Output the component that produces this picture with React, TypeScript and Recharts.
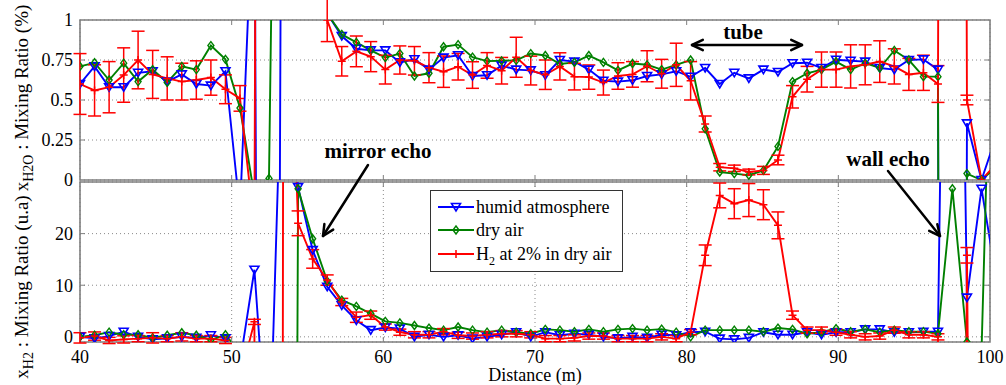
import React from 'react'
import {
  CartesianGrid,
  ErrorBar,
  Legend,
  Line,
  LineChart,
  ReferenceArea,
  ReferenceLine,
  XAxis,
  YAxis,
} from 'recharts'

// range bins (m)
const distance = [
  40.0, 40.96, 41.92, 42.88, 43.83, 44.79, 45.75, 46.71, 47.67, 48.63,
  49.59, 50.55, 51.5, 52.46, 53.42, 54.38, 55.34, 56.3, 57.26, 58.22,
  59.17, 60.13, 61.09, 62.05, 63.01, 63.97, 64.93, 65.88, 66.84, 67.8,
  68.76, 69.72, 70.68, 71.64, 72.6, 73.55, 74.51, 75.47, 76.43, 77.39,
  78.35, 79.31, 80.26, 81.22, 82.18, 83.14, 84.1, 85.06, 86.02, 86.98,
  87.94, 88.89, 89.85, 90.81, 91.77, 92.73, 93.69, 94.65, 95.61, 96.57,
  97.52, 98.48, 99.44, 100.4,
]

// x_H2O (%)
const humidH2O = [
  0.6, 0.71, 0.58, 0.58, 0.67, 0.68, 0.615, 0.66, 0.6, 0.59,
  0.68, -0.2, 2.0, -17, 5.7, 4.0, 1.5, 1.04, 0.9, 0.82,
  0.81, 0.81, 0.735, 0.755, 0.69, 0.765, 0.78, 0.65, 0.655, 0.715,
  0.69, 0.685, 0.655, 0.75, 0.74, 0.69, 0.62, 0.615, 0.623, 0.65,
  0.66, 0.68, 0.645, 0.7, 0.6, 0.67, 0.635, 0.69, 0.675, 0.73,
  0.733, 0.7, 0.752, 0.745, 0.74, 0.7, 0.69, 0.75, 0.754, 0.69,
  -30, 0.354, 0.0, 0.27,
]
const dryH2O = [
  0.71, 0.733, 0.625, 0.73, 0.615, 0.69, 0.61, 0.71, 0.69, 0.84,
  0.754, 0.45, -0.1, 0.01, 6.7, 4.0, 1.6, 1.04, 0.91, 0.86,
  0.81, 0.765, 0.79, 0.65, 0.667, 0.833, 0.846, 0.768, 0.743, 0.745,
  0.748, 0.79, 0.778, 0.725, 0.735, 0.778, 0.735, 0.685, 0.728, 0.72,
  0.69, 0.72, 0.75, 0.32, 0.05, 0.04, 0.03, 0.06, 0.21, 0.615,
  0.667, 0.69, 0.74, 0.69, 0.73, 0.7, 0.81, 0.75, 0.646, 0.646,
  -30, 0.04, 0.0, 0.08,
]
const h2H2O = [
  0.6, 0.56, 0.58, 0.656, 0.75, 0.66, 0.635, 0.615, 0.625, 0.64,
  0.567, 0.51, -0.3, 25, 20, 10, 3, 1.0, 0.742, 0.804,
  0.771, 0.69, 0.75, 0.745, 0.702, 0.677, 0.708, 0.656, 0.716, 0.683,
  0.767, 0.684, 0.658, 0.71, 0.646, 0.643, 0.609, 0.65, 0.66, 0.711,
  0.664, 0.72, 0.62, 0.35, 0.08, 0.073, 0.05, 0.06, 0.125, 0.52,
  0.63, 0.69, 0.69, 0.71, 0.72, 0.74, 0.71, 0.66, 0.67, 0.6,
  30, 0.5, 0.0, 0.1,
]
const h2H2OErr = [
  0.19, 0.16, 0.16, 0.17, 0.18, 0.15, 0.135, 0.115, 0.12, 0.11,
  0.09, 0.08, null, null, null, null, null, 0.135, 0.092, 0.096,
  0.094, 0.09, 0.088, 0.089, 0.094, 0.098, 0.083, 0.083, 0.08, 0.083,
  0.125, 0.09, 0.092, 0.085, 0.083, 0.076, 0.078, 0.083, 0.08, 0.097,
  0.09, 0.135, 0.12, 0.05, 0.023, 0.02, 0.018, 0.025, 0.03, 0.07,
  0.08, 0.11, 0.11, 0.135, 0.125, 0.13, 0.11, 0.1, 0.11, 0.115,
  null, 0.03, null, null,
]

// x_H2 (u.a)
const humidH2 = [
  0, -0.3, 0.15, 1.0, 0, -0.5, -0.3, 0, -0.2, 0.3,
  -0.3, -5, 13.0, -27, 66, 29, 16.8, 9.7, 6.1, 3.2,
  1.3, 1.8, 1.6, 0, 0.4, 0, 0.3, -0.35, 0, 0.4,
  0.9, 0, 0.9, 0.3, 0.6, 0.4, 0, -0.3, 0, -0.2,
  0.4, 0.3, 0.9, 1.0, -0.35, -0.5, -0.2, 0.9, 0.4, 0.4,
  0.9, 0.4, 0.9, 0.9, 1.45, 1.45, 0.9, 0.9, 1.0, 1.0,
  200, 7.6, 28.7, 11.5,
]
const dryH2 = [
  0, 0.3, 0.9, 0.4, 0.4, -0.2, 0.3, 0.8, 0.3, -0.6,
  0.4, -3, -20, -60, -600, 28.7, 19, 10.8, 7.1, 5.9,
  4.5, 3.0, 2.7, 2.2, 1.7, 1.3, 1.9, 1.3, 0.9, 1.3,
  0.9, 0.6, 1.45, 1.3, 1.0, 1.45, 1.0, 1.45, 1.6, 1.3,
  1.5, 0.9, 0, 1.3, 1.3, 1.3, 1.3, 1.0, 1.7, 1.45,
  0.6, 0.9, 1.6, 1.0, 1.45, 0.9, 1.3, 1.0, 1.0, 0.6,
  28.7, -1, -3, 100,
]
const h2H2 = [
  -0.2, 0.15, -0.7, -0.5, -0.35, -0.2, -0.35, 0, -0.35, -0.35,
  -0.7, -8, 2.9, -2000, 100, 22, 15.1, 11.0, 6.75, 3.8,
  4.2, 1.9, 0.9, 0.4, 0.4, 1.0, 0.3, 0.15, 0.4, 0.6,
  0.6, 0.4, -0.35, -0.35, -0.2, 0.15, 0.15, -0.35, -0.35, -0.35,
  0, -0.35, 0.9, 15.8, 27.4, 25.8, 26.5, 25.6, 21.6, 4.2,
  1.3, 1.3, 0.9, 0.4, 0, 0.15, 1.3, 0.4, 0.4, 0,
  -500, 15.8, -300, -300,
]
const h2H2Err = [
  1.0, 0.8, 0.6, 0.7, 0.6, 1.0, 0.6, 0.8, 0.6, 0.6,
  0.6, null, 0.5, null, null, 2.4, 1.8, 1.0, 0.7, 1.0,
  0.8, 0.6, 0.6, 0.6, 0.6, 0.6, 0.6, 0.6, 0.6, 0.6,
  0.6, 0.6, 0.6, 0.6, 0.6, 0.6, 0.6, 0.6, 0.6, 0.6,
  0.6, 0.6, 0.5, 2.0, 2.4, 2.9, 3.2, 2.9, 2.6, 0.8,
  0.6, 0.6, 0.6, 0.6, 0.6, 0.6, 0.6, 0.6, 0.6, 0.6,
  null, 1.5, null, null,
]

const seriesNames = ['humid atmosphere', 'dry air', 'H2 at 2% in dry air']

const xTicks = [40, 50, 60, 70, 80, 90, 100]
const topTicks = [0, 0.25, 0.5, 0.75, 1]
const bottomTicks = [0, 10, 20]
const topDomain: [number, number] = [0, 1]
const bottomDomain: [number, number] = [-1, 30]

const BLUE = '#0000ff'
const GREEN = '#008000'
const RED = '#ff0000'
const BOX = '#7f7f7f'
const SERIF = '"Liberation Serif", "Times New Roman", serif'

const topData = distance.map((d, i) => ({
  d,
  humid: humidH2O[i],
  dry: dryH2O[i],
  h2: h2H2O[i],
  h2Err: h2H2OErr[i],
}))

const bottomData = distance.map((d, i) => ({
  d,
  humid: humidH2[i],
  dry: dryH2[i],
  h2: h2H2[i],
  h2Err: h2H2Err[i],
}))

function TriangleDot(props: any) {
  const { cx, cy } = props
  if (cx == null || cy == null || !isFinite(cy)) return <g />
  return (
    <path
      d={`M${cx - 4.5},${cy - 3.5}L${cx + 4.5},${cy - 3.5}L${cx},${cy + 4}Z`}
      fill="none"
      stroke={BLUE}
      strokeWidth={1.6}
    />
  )
}

function DiamondDot(props: any) {
  const { cx, cy } = props
  if (cx == null || cy == null || !isFinite(cy)) return <g />
  return (
    <path
      d={`M${cx},${cy - 4}L${cx + 3},${cy}L${cx},${cy + 4}L${cx - 3},${cy}Z`}
      fill="none"
      stroke={GREEN}
      strokeWidth={1.4}
    />
  )
}

function PlusDot(props: any) {
  const { cx, cy } = props
  if (cx == null || cy == null || !isFinite(cy)) return <g />
  return (
    <path
      d={`M${cx - 4},${cy}L${cx + 4},${cy}M${cx},${cy - 4}L${cx},${cy + 4}`}
      stroke={RED}
      strokeWidth={1.5}
    />
  )
}

// small inward tick marks, like the MATLAB box
function boxTicks(domain: [number, number], yTicks: number[]) {
  const dx = (5 * 60) / 910
  const dy = (5 * (domain[1] - domain[0])) / 160
  const segs: { x: number; y: number }[][] = []
  xTicks.slice(1, -1).forEach(x => {
    segs.push([{ x, y: domain[0] }, { x, y: domain[0] + dy }])
    segs.push([{ x, y: domain[1] }, { x, y: domain[1] - dy }])
  })
  yTicks.forEach(y => {
    if (y <= domain[0] || y >= domain[1]) return
    segs.push([{ x: 40, y }, { x: 40 + dx, y }])
    segs.push([{ x: 100, y }, { x: 100 - dx, y }])
  })
  return segs.map((s, i) => (
    <ReferenceLine key={`bt-${i}`} segment={s} stroke={BOX} strokeWidth={1} />
  ))
}

function LegendSample({ color, marker }: { color: string; marker: React.ReactNode }) {
  return (
    <svg width={38} height={20} style={{ display: 'block' }}>
      <line x1={1} y1={10} x2={37} y2={10} stroke={color} strokeWidth={2} />
      {marker}
    </svg>
  )
}

function LegendBox() {
  const rows = [
    { color: BLUE, marker: <TriangleDot cx={19} cy={10} />, label: <span>{seriesNames[0]}</span> },
    { color: GREEN, marker: <DiamondDot cx={19} cy={10} />, label: <span>{seriesNames[1]}</span> },
    {
      color: RED,
      marker: <PlusDot cx={19} cy={10} />,
      label: (
        <span>
          H<sub style={{ fontSize: 12, lineHeight: 0, verticalAlign: -5 }}>2</sub> at 2% in dry air
        </span>
      ),
    },
  ]
  return (
    <div
      style={{
        width: 193,
        height: 82,
        boxSizing: 'border-box',
        border: '1px solid #333',
        background: '#fff',
        fontFamily: SERIF,
        fontSize: 18,
        color: '#000',
        paddingTop: 4,
      }}
    >
      {rows.map((r, i) => (
        <div key={i} style={{ display: 'flex', alignItems: 'center', height: 23.5, paddingLeft: 6 }}>
          <LegendSample color={r.color} marker={r.marker} />
          <div style={{ marginLeft: 1, lineHeight: '20px', whiteSpace: 'nowrap' }}>{r.label}</div>
        </div>
      ))}
    </div>
  )
}

function arrowHead(x1: number, y1: number, x2: number, y2: number, len = 12, spread = 0.45) {
  const a = Math.atan2(y2 - y1, x2 - x1)
  const p1 = [x2 - len * Math.cos(a - spread), y2 - len * Math.sin(a - spread)]
  const p2 = [x2 - len * Math.cos(a + spread), y2 - len * Math.sin(a + spread)]
  return `M${p1[0]},${p1[1]}L${x2},${y2}L${p2[0]},${p2[1]}`
}

function Arrow({ x1, y1, x2, y2, both }: { x1: number; y1: number; x2: number; y2: number; both?: boolean }) {
  return (
    <g stroke="#000" strokeWidth={2.5} fill="none" strokeLinecap="round" strokeLinejoin="round">
      <line x1={x1} y1={y1} x2={x2} y2={y2} />
      <path d={arrowHead(x1, y1, x2, y2)} />
      {both && <path d={arrowHead(x2, y2, x1, y1)} />}
    </g>
  )
}

const tickStyle = { fontSize: 18, fill: '#000', fontFamily: SERIF }

export default function App() {
  return (
    <div
      style={{
        position: 'absolute',
        left: 0,
        top: 0,
        width: 1006,
        height: 385,
        background: '#fff',
        fontFamily: SERIF,
      }}
    >
      <div style={{ position: 'absolute', left: 0, top: 0 }}>
        {/* extra bottom margin so the "0" tick label of the upper panel is not cut */}
        <LineChart width={1006} height={195} data={topData} margin={{ top: 20, right: 16, bottom: 15, left: 0 }}>
          <CartesianGrid strokeDasharray="1 3" stroke="#8a8a8a" />
          <XAxis
            dataKey="d"
            type="number"
            domain={[40, 100]}
            ticks={xTicks}
            allowDataOverflow
            height={0}
            tick={false}
            axisLine={false}
            tickLine={false}
          />
          <YAxis
            type="number"
            domain={topDomain}
            ticks={topTicks}
            allowDataOverflow
            width={80}
            tickSize={0}
            tickMargin={7}
            axisLine={false}
            tickLine={false}
            tick={tickStyle}
          />
          <Line dataKey="humid" stroke={BLUE} strokeWidth={1.9} dot={<TriangleDot />} isAnimationActive={false} />
          <Line dataKey="dry" stroke={GREEN} strokeWidth={1.9} dot={<DiamondDot />} isAnimationActive={false} />
          <Line dataKey="h2" stroke={RED} strokeWidth={1.9} dot={<PlusDot />} isAnimationActive={false}>
            <ErrorBar dataKey="h2Err" width={6.5} stroke={RED} strokeWidth={1.5} direction="y" />
          </Line>
          {boxTicks(topDomain, topTicks)}
          <ReferenceArea x1={40} x2={100} y1={0} y2={1} fill="none" stroke={BOX} strokeWidth={1.6} ifOverflow="visible" />
        </LineChart>
      </div>

      <div style={{ position: 'absolute', left: 0, top: 180 }}>
        <LineChart width={1006} height={205} data={bottomData} margin={{ top: 2, right: 16, bottom: 0, left: 0 }}>
          <CartesianGrid strokeDasharray="1 3" stroke="#8a8a8a" />
          <XAxis
            dataKey="d"
            type="number"
            domain={[40, 100]}
            ticks={xTicks}
            allowDataOverflow
            height={43}
            tickSize={0}
            tickMargin={8}
            axisLine={false}
            tickLine={false}
            tick={tickStyle}
          />
          <YAxis
            type="number"
            domain={bottomDomain}
            ticks={bottomTicks}
            allowDataOverflow
            width={80}
            tickSize={0}
            tickMargin={7}
            axisLine={false}
            tickLine={false}
            tick={tickStyle}
          />
          <Line dataKey="humid" stroke={BLUE} strokeWidth={1.9} dot={<TriangleDot />} isAnimationActive={false} />
          <Line dataKey="dry" stroke={GREEN} strokeWidth={1.9} dot={<DiamondDot />} isAnimationActive={false} />
          <Line dataKey="h2" stroke={RED} strokeWidth={1.9} dot={<PlusDot />} isAnimationActive={false}>
            <ErrorBar dataKey="h2Err" width={6.5} stroke={RED} strokeWidth={1.5} direction="y" />
          </Line>
          {boxTicks(bottomDomain, bottomTicks)}
          <ReferenceArea x1={40} x2={100} y1={-1} y2={30} fill="none" stroke={BOX} strokeWidth={1.6} ifOverflow="visible" />
          <Legend
            layout="vertical"
            align="center"
            verticalAlign="middle"
            wrapperStyle={{ left: 430, top: 10, width: 193, height: 82 }}
            content={() => <LegendBox />}
          />
        </LineChart>
      </div>

      <svg
        width={1006}
        height={385}
        style={{ position: 'absolute', left: 0, top: 0, pointerEvents: 'none', overflow: 'visible' }}
        fontFamily={SERIF}
      >
        <text transform="translate(28,98) rotate(-90)" textAnchor="middle" fontSize={19} fill="#000">
          x<tspan dy={5} fontSize={14}>H2O</tspan>
          <tspan dy={-5}> : Mixing Ratio (%)</tspan>
        </text>
        <text transform="translate(28,287) rotate(-90)" textAnchor="middle" fontSize={19} fill="#000">
          x<tspan dy={5} fontSize={14}>H2</tspan>
          <tspan dy={-5}> : Mixing Ratio (u.a)</tspan>
        </text>
        <text x={535} y={381} textAnchor="middle" fontSize={18} fill="#000">Distance (m)</text>

        <text x={743} y={39} textAnchor="middle" fontSize={21} fontWeight="bold" fill="#000">tube</text>
        <Arrow x1={692} y1={45} x2={802} y2={45} both />

        <text x={378} y={158} textAnchor="middle" fontSize={21} fontWeight="bold" fill="#000">mirror echo</text>
        <Arrow x1={368} y1={165} x2={323} y2={236} />

        <text x={888} y={166} textAnchor="middle" fontSize={21} fontWeight="bold" fill="#000">wall echo</text>
        <Arrow x1={888} y1={171} x2={940} y2={236} />
      </svg>
    </div>
  )
}
